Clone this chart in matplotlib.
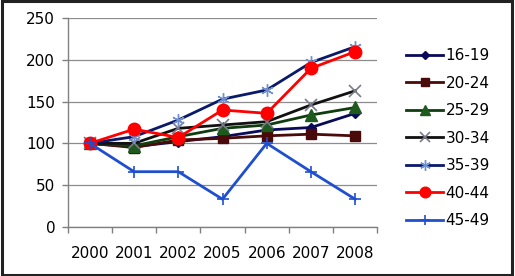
import matplotlib
matplotlib.use("Agg")
import matplotlib.pyplot as plt
from matplotlib.patches import Rectangle

years = ["2000", "2001", "2002", "2005", "2006", "2007", "2008"]
s16_19 = [100, 96, 102, 108, 116, 119, 136]
s20_24 = [100, 95, 104, 106, 109, 111, 109]
s25_29 = [100, 97, 108, 118, 122, 134, 143]
s30_34 = [100, 100, 118, 122, 126, 146, 163]
s35_39 = [100, 108, 128, 153, 164, 197, 216]
s40_44 = [100, 117, 107, 140, 136, 190, 210]
s45_49 = [100, 66, 66, 33, 100, 66, 33]
labels = ["16-19", "20-24", "25-29", "30-34", "35-39", "40-44", "45-49"]
yticks = [0, 50, 100, 150, 200, 250]

plt.rcParams['font.family'] = ['DejaVu Sans']
FS = 11

fig = plt.figure(figsize=(5.15, 2.76), dpi=100)
ax = fig.add_axes([0.1315, 0.1786, 0.6011, 0.7551])

x = list(range(len(years)))
styles = [
    dict(color="#0a0a5a", marker="D", ms=5, mfc="#0a0a5a", mec="#0a0a5a"),
    dict(color="#4a0a0a", marker="s", ms=7.5, mfc="#4a0a0a", mec="#4a0a0a"),
    dict(color="#0f3d10", marker="^", ms=8, mfc="#1e5a1e", mec="#1e5a1e"),
    dict(color="#111111", marker="x", ms=8, mfc="none", mec="#7a7a8a", mew=1.2),
    dict(color="#0a1a6a", marker=(6, 2, 0), ms=9, mfc="none", mec="#6f8fd0", mew=1.0),
    dict(color="#ff0000", marker="o", ms=9, mfc="#ff0000", mec="#ff0000"),
    dict(color="#1f4fcf", marker="+", ms=9, mfc="none", mec="#1f4fcf", mew=1.2),
]
series = [s16_19, s20_24, s25_29, s30_34, s35_39, s40_44, s45_49]
for vals, lab, st in zip(series, labels, styles):
    ax.plot(x, vals, lw=2.0, label=lab, **st)

ax.set_xlim(-0.5, len(years) - 0.5)
ax.set_ylim(0, 250)
ax.set_yticks(yticks)
ax.set_yticklabels([str(v) for v in yticks], fontsize=FS)
ax.set_xticks(x)
ax.set_xticklabels(years, fontsize=FS)
ax.tick_params(axis='x', length=0, pad=14)
ax.set_xticks([i - 0.5 for i in range(len(years) + 1)], minor=True)
ax.tick_params(axis='x', which='minor', length=4, color="#808080", width=1)
ax.tick_params(axis='y', length=4, color="#808080", width=1, pad=5)
ax.grid(axis='y', color="#8c8c8c", lw=0.9)
ax.set_axisbelow(True)
for sp in ["top", "right"]:
    ax.spines[sp].set_visible(False)
for sp in ["left", "bottom"]:
    ax.spines[sp].set_color("#808080")
    ax.spines[sp].set_linewidth(1)

leg = ax.legend(loc="center left", bbox_to_anchor=(0.788, 0.499), bbox_transform=fig.transFigure,
                frameon=False, fontsize=FS, handlelength=2.45, handletextpad=0.15,
                labelspacing=0.82, borderaxespad=0, borderpad=0, markerscale=0.85)

fig.patches.append(Rectangle((0.003, 0.005), 0.991, 0.99, transform=fig.transFigure,
                             fill=False, edgecolor="#222222", lw=2.2))

fig.savefig("out.png", dpi=100)
